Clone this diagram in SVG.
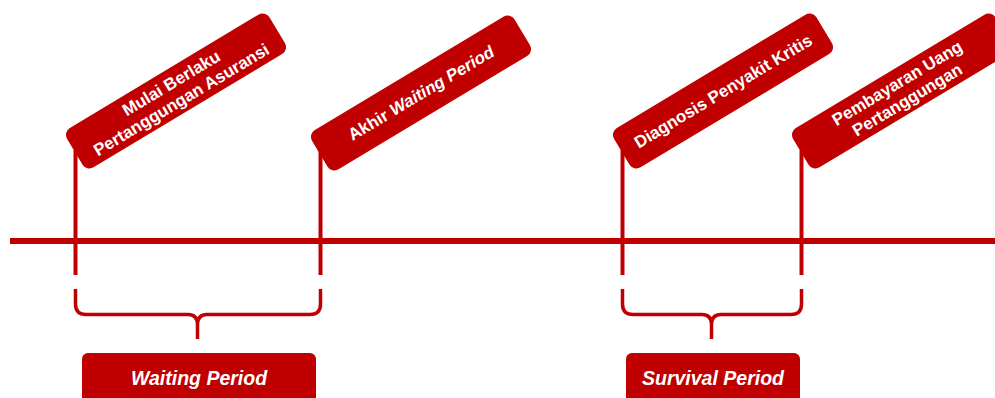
<svg xmlns="http://www.w3.org/2000/svg" width="995" height="398" viewBox="0 0 995 398">
<style>
.ln{stroke:#C00000;fill:none;stroke-width:4}
.tl{stroke:#C00000;fill:none;stroke-width:6}
.br{stroke:#C00000;fill:none;stroke-width:3.5}
.tag{fill:#C00000}
.tx{fill:#fff;font-family:"Liberation Sans",Arial,sans-serif;font-weight:bold;font-size:17px;text-anchor:middle}
.bx{fill:#fff;font-family:"Liberation Sans",Arial,sans-serif;font-weight:bold;font-style:italic;font-size:19.5px;text-anchor:middle}
</style>
<rect width="995" height="398" fill="#fff"/>
<g id="connectors">
<line class="tl" x1="10" y1="241" x2="995" y2="241"/>
<line class="ln" x1="75.5" y1="150" x2="75.5" y2="275"/>
<line class="ln" x1="320.5" y1="150" x2="320.5" y2="275"/>
<line class="ln" x1="622.5" y1="150" x2="622.5" y2="275"/>
<line class="ln" x1="801.5" y1="150" x2="801.5" y2="275"/>
<path class="br" d="M75.5,289 V304 Q75.5,314.5 86,314.5 H188 Q197,314.5 197.5,324 V339 M320.5,289 V304 Q320.5,314.5 310,314.5 H207 Q198,314.5 197.5,324"/>
<path class="br" d="M622.5,289 V304 Q622.5,314.5 633,314.5 H702 Q711,314.5 711.5,324 V339 M801.5,289 V304 Q801.5,314.5 791,314.5 H721 Q712,314.5 711.5,324"/>
</g>
<g id="tag-mulai" transform="translate(176,91) rotate(-31)">
<rect class="tag" x="-118" y="-23" width="236" height="46" rx="8"/>
<text class="tx" x="0" y="-3.5">Mulai Berlaku</text>
<text class="tx" x="0" y="16">Pertanggungan Asuransi</text>
</g>
<g id="tag-akhir" transform="translate(421,93) rotate(-31)">
<rect class="tag" x="-118" y="-23" width="236" height="46" rx="8"/>
<text class="tx" x="0" y="6">Akhir <tspan font-style="italic">Waiting Period</tspan></text>
</g>
<g id="tag-diagnosis" transform="translate(723,91) rotate(-31)">
<rect class="tag" x="-118" y="-23" width="236" height="46" rx="8"/>
<text class="tx" x="0" y="6">Diagnosis Penyakit Kritis</text>
</g>
<g id="tag-pembayaran" transform="translate(902,91) rotate(-31)">
<rect class="tag" x="-118" y="-23" width="236" height="46" rx="8"/>
<text class="tx" x="0" y="-3.5">Pembayaran Uang</text>
<text class="tx" x="0" y="16">Pertanggungan</text>
</g>
<g id="box-waiting">
<rect class="tag" x="82" y="353" width="234" height="60" rx="6"/>
<text class="bx" x="199" y="385">Waiting Period</text>
</g>
<g id="box-survival">
<rect class="tag" x="626" y="353" width="174" height="60" rx="6"/>
<text class="bx" x="713" y="385">Survival Period</text>
</g>
</svg>
